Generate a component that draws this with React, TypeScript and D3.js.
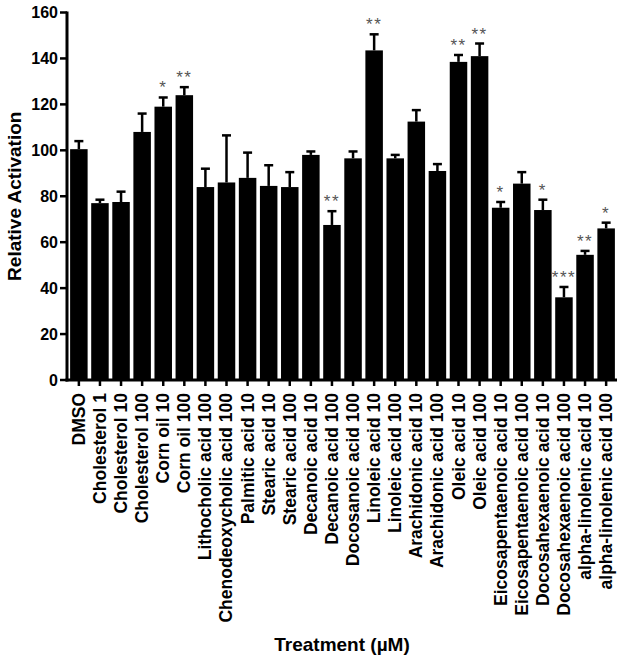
import React from "react";
import * as d3 from "d3";

const categories = [
  "DMSO", "Cholesterol 1", "Cholesterol 10", "Cholesterol 100", "Corn oil 10", "Corn oil 100",
  "Lithocholic acid 100", "Chenodeoxycholic acid 100", "Palmitic acid 10", "Stearic acid 10",
  "Stearic acid 100", "Decanoic acid 10", "Decanoic acid 100", "Docosanoic acid 100",
  "Linoleic acid 10", "Linoleic acid 100", "Arachidonic acid 10", "Arachidonic acid 100",
  "Oleic acid 10", "Oleic acid 100", "Eicosapentaenoic acid 10", "Eicosapentaenoic acid 100",
  "Docosahexaenoic acid 10", "Docosahexaenoic acid 100", "alpha-linolenic acid 10", "alpha-linolenic acid 100",
];
const means = [100.5, 77, 77.5, 108, 119, 124, 84, 86, 88, 84.5, 84, 98, 67.5, 96.5, 143.5, 96.5, 112.5, 91, 138.5, 141, 75, 85.5, 74, 36, 54.5, 66];
const errors = [3.5, 1.5, 4.5, 8, 4, 3.5, 8, 20.5, 11, 9, 6.5, 1.5, 6, 3, 7, 1.5, 5, 3, 3, 5.5, 2.5, 5, 4.5, 4.5, 1.7, 2.5];
const stars = ["", "", "", "", "*", "**", "", "", "", "", "", "", "**", "", "**", "", "", "", "**", "**", "*", "", "*", "***", "**", "*"];
const yTicks = [0, 20, 40, 60, 80, 100, 120, 140, 160];

const W = 624, H = 662;
const m = { left: 67, right: 617, top: 12.5, bottom: 380 };
const FONT = "Arial, 'Liberation Sans', Helvetica, sans-serif";

export default function App() {
  const x = d3.scaleBand<string>().domain(categories).range([m.left + 1, m.right]).paddingInner(0.17).paddingOuter(0.1);
  const y = d3.scaleLinear().domain([0, 160]).range([m.bottom, m.top]);
  const bw = x.bandwidth();
  return (
    <div style={{ position: "absolute", left: 0, top: 0 }}>
      <svg width={W} height={H} style={{ display: "block", background: "#fff" }} fontFamily={FONT}>
        {categories.map((c, i) => {
          const cx = x(c)! + bw / 2;
          const top = y(means[i]);
          const cap = y(means[i] + errors[i]);
          return (
            <g key={c}>
              <rect x={x(c)} y={top} width={bw} height={m.bottom - top} fill="#000" />
              <line x1={cx} x2={cx} y1={top} y2={cap} stroke="#000" strokeWidth={2.5} />
              <line x1={cx - 4.5} x2={cx + 4.5} y1={cap} y2={cap} stroke="#000" strokeWidth={2.5} />
              {stars[i] && (
                <text x={cx} y={cap - 4} textAnchor="middle" fontSize={17} fill="#555" letterSpacing={1.5}>
                  {stars[i]}
                </text>
              )}
              <line x1={cx} x2={cx} y1={m.bottom} y2={m.bottom + 6} stroke="#000" strokeWidth={2.5} />
              <text
                transform={`translate(${cx + 6},${m.bottom + 13}) rotate(-90)`}
                textAnchor="end"
                fontSize={17.5}
                fontWeight="bold"
                fill="#000"
              >
                {c}
              </text>
            </g>
          );
        })}
        {/* axes */}
        <line x1={m.left} x2={m.left} y1={m.top - 1} y2={m.bottom + 1.5} stroke="#000" strokeWidth={3} />
        <line x1={m.left - 1.5} x2={m.right} y1={m.bottom} y2={m.bottom} stroke="#000" strokeWidth={3} />
        {yTicks.map((t) => (
          <g key={t}>
            <line x1={m.left - 7} x2={m.left} y1={y(t)} y2={y(t)} stroke="#000" strokeWidth={2.5} />
            <text x={m.left - 9} y={y(t) + 5.5} textAnchor="end" fontSize={16} fontWeight="bold" fill="#000">
              {t}
            </text>
          </g>
        ))}
        <text
          transform={`translate(21,${(m.top + m.bottom) / 2}) rotate(-90)`}
          textAnchor="middle"
          fontSize={19}
          fontWeight="bold"
          fill="#000"
        >
          Relative Activation
        </text>
        <text x={(m.left + m.right) / 2} y={651} textAnchor="middle" fontSize={19} fontWeight="bold" fill="#000">
          Treatment (µM)
        </text>
      </svg>
    </div>
  );
}
